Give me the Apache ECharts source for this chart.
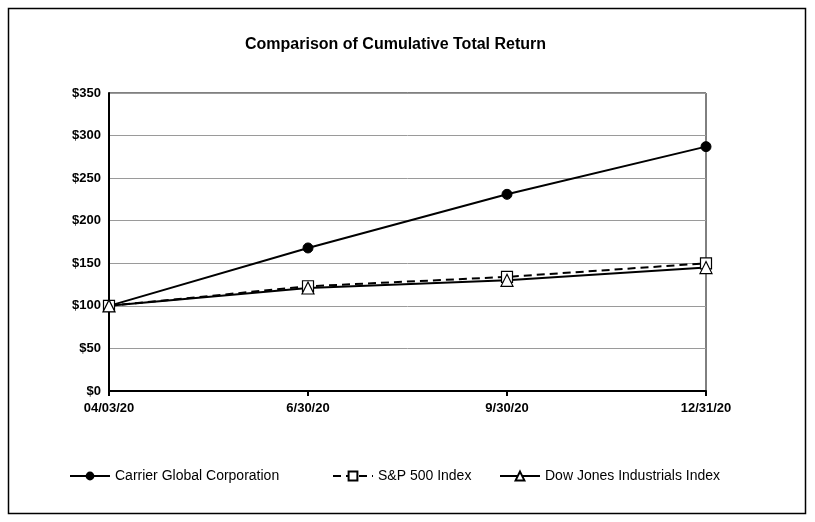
<!DOCTYPE html>
<html>
<head>
<meta charset="utf-8">
<script src="https://cdn.jsdelivr.net/npm/echarts@6/dist/echarts.min.js"></script>
<style>
html,body{margin:0;padding:0;background:#fff;}
#chart{width:815px;height:522px;}
</style>
</head>
<body>
<div id="chart"></div>
<script>
const categories = ['04/03/20', '6/30/20', '9/30/20', '12/31/20'];
const carrier = [100, 168, 231, 287];
const sp500 = [100, 123, 134, 150];
const dowJones = [100, 121, 130, 145];
const seriesNames = ['Carrier Global Corporation', 'S&P 500 Index', 'Dow Jones Industrials Index'];

const font = '"Liberation Sans", Arial, sans-serif';
const chart = echarts.init(document.getElementById('chart'), null, {renderer: 'canvas'});
const legendCommon = {
  top: 464, itemWidth: 40, itemHeight: 11, itemGap: 10,
  textStyle: {fontFamily: font, fontSize: 14, color: '#000'}
};
chart.setOption({
  animation: false,
  backgroundColor: '#fff',
  title: {
    text: 'Comparison of Cumulative Total Return',
    left: 240, top: 32,
    textStyle: {fontFamily: font, fontSize: 16, fontWeight: 'bold', color: '#000'}
  },
  graphic: [{
    type: 'rect', shape: {x: 8.5, y: 8.5, width: 797, height: 505},
    style: {fill: 'none', stroke: '#000', lineWidth: 1.5}, silent: true
  }],
  legend: [
    Object.assign({left: 64, data: [seriesNames[0]]}, legendCommon),
    Object.assign({left: 327, data: [seriesNames[1]]}, legendCommon),
    Object.assign({left: 494, data: [seriesNames[2]]}, legendCommon)
  ],
  grid: {left: 109, right: 109, top: 93, bottom: 131, show: true, borderColor: '#000', borderWidth: 1, backgroundColor: 'transparent'},
  xAxis: {
    type: 'category', data: categories, boundaryGap: false,
    axisLine: {lineStyle: {color: '#000', width: 2}},
    axisTick: {show: true, length: 5, lineStyle: {color: '#000', width: 2}},
    axisLabel: {fontFamily: font, fontSize: 13, fontWeight: 'bold', color: '#000', margin: 11}
  },
  yAxis: {
    type: 'value', min: 0, max: 350, interval: 50,
    axisLine: {show: true, lineStyle: {color: '#000', width: 2}},
    axisTick: {show: false},
    splitLine: {lineStyle: {color: '#9a9a9a', width: 1}},
    axisLabel: {fontFamily: font, fontSize: 13, fontWeight: 'bold', color: '#000', margin: 8,
      formatter: v => '$' + v}
  },
  series: [
    {name: seriesNames[0], type: 'line', data: carrier, symbol: 'circle', symbolSize: 10,
     lineStyle: {color: '#000', width: 2}, itemStyle: {color: '#000', borderColor: '#000'}},
    {name: seriesNames[1], type: 'line', data: sp500, symbol: 'rect', symbolSize: 11,
     lineStyle: {color: '#000', width: 2, type: [8, 5]}, itemStyle: {color: '#fff', borderColor: '#000', borderWidth: 1.2}},
    {name: seriesNames[2], type: 'line', data: dowJones, symbol: 'triangle', symbolSize: 12,
     lineStyle: {color: '#000', width: 2}, itemStyle: {color: '#fff', borderColor: '#000', borderWidth: 1.2}}
  ]
});
</script>
</body>
</html>
